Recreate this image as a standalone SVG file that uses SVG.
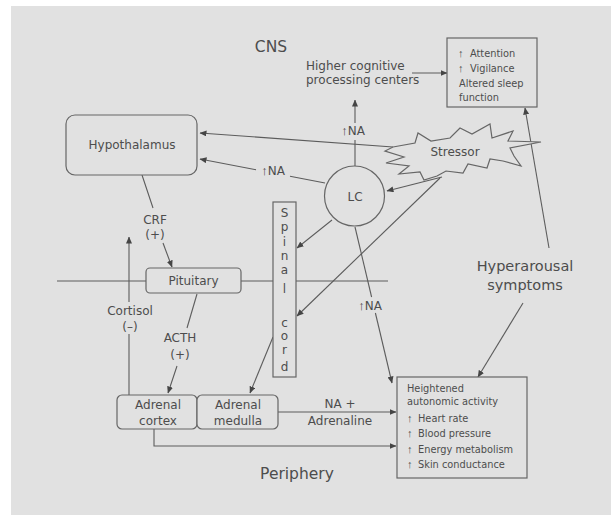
<svg xmlns="http://www.w3.org/2000/svg" width="611" height="515" viewBox="0 0 611 515">
<defs>
<marker id="ah" markerWidth="7" markerHeight="6" refX="6.5" refY="3" orient="auto" markerUnits="userSpaceOnUse"><path d="M0,0 L7,3 L0,6 z" fill="#454545"/></marker>
<style>
.ln{stroke:#5c5c5c;stroke-width:1.1;fill:none}
.ar{stroke:#5c5c5c;stroke-width:1.1;fill:none;marker-end:url(#ah)}
.bx{fill:#e1e1e1;stroke:#666;stroke-width:1.2}
text{font-family:"DejaVu Sans","Liberation Sans",sans-serif;fill:#4d4d4d}
.t12{font-size:12px}
.t10{font-size:9.8px}
.big{font-size:15.5px}
.mid{text-anchor:middle}
.up{font-family:"Liberation Sans",sans-serif;font-size:11px;font-weight:bold}
.upn{font-family:"Liberation Sans",sans-serif;font-size:13px;font-weight:bold}
</style>
</defs>
<rect x="0" y="0" width="611" height="515" fill="#ffffff"/>
<rect x="11" y="6" width="600" height="509" fill="#e1e1e1"/>

<g id="connectors">
<line class="ln" x1="57" y1="281" x2="388" y2="281"/>
<path class="ar" d="M412,73 L447,73"/>
<path class="ln" d="M355,166 L355,140"/>
<path class="ar" d="M355,123 L355,100"/>
<path class="ar" d="M393,147 L200,133"/>
<path class="ln" d="M325,183 L290,176.3"/>
<path class="ar" d="M256,169.8 L200,159"/>
<path class="ar" d="M442,177 L387,191"/>
<path class="ar" d="M332,220 L297,248"/>
<path class="ar" d="M440,178 L297,316"/>
<path class="ln" d="M355,227 L371.6,297"/>
<path class="ar" d="M375.4,313 L392,383"/>
<path class="ar" d="M549,248 L525,108"/>
<path class="ar" d="M523,303 L478,377"/>
<path class="ln" d="M142,175 L153,208"/>
<path class="ar" d="M163,243 L172,267"/>
<path class="ln" d="M129,395 L129,334"/>
<path class="ar" d="M129,302 L129,237"/>
<path class="ln" d="M197,294 L187,328"/>
<path class="ar" d="M177,366 L168,393"/>
<path class="ar" d="M273,337 L250,393"/>
<path class="ar" d="M278,412 L396,412"/>
<path class="ar" d="M154,429 L154,446 L396,446"/>
</g>

<text class="big mid" x="271" y="52">CNS</text>
<text class="big mid" x="297" y="479">Periphery</text>

<g id="higher-cognitive">
<text class="t12" x="306" y="70">Higher cognitive</text>
<text class="t12" x="306" y="84">processing centers</text>
</g>

<g id="cns-symptoms">
<rect class="bx" x="447" y="38" width="90" height="69"/>
<text class="up" x="458" y="57">↑</text><text class="t10" x="470" y="57">Attention</text>
<text class="up" x="458" y="72">↑</text><text class="t10" x="470" y="72">Vigilance</text>
<text class="t10" x="459" y="87">Altered sleep</text>
<text class="t10" x="459" y="101">function</text>
</g>

<g id="hypothalamus">
<rect class="bx" x="66" y="115" width="131" height="60" rx="9"/>
<text class="t12 mid" x="132" y="149">Hypothalamus</text>
</g>

<g id="stressor">
<polygon class="bx" points="393,147 415,143 418,133 431,141 450,138 460,128 472,134 490,124 492,138 513,131 508,141 541,142 510,148 514,156 521,166 503,161 490,159 487,168 468,164 463,173 446,171 437,176 424,180 420,172 399,174 409,166 386,163 404,157 385,151"/>
<text class="t12 mid" x="455" y="156">Stressor</text>
</g>

<g id="lc">
<circle class="bx" cx="354.5" cy="196" r="30"/>
<text class="t12 mid" x="355" y="201">LC</text>
</g>

<g id="na-labels">
<text class="t12 mid" x="353" y="135"><tspan class="upn">↑</tspan>NA</text>
<text class="t12 mid" x="273" y="175"><tspan class="upn">↑</tspan>NA</text>
<text class="t12 mid" x="370" y="310"><tspan class="upn">↑</tspan>NA</text>
</g>

<g id="spinal-cord">
<rect class="bx" x="273" y="202" width="23" height="175"/>
<text class="t12 mid" x="284.5" y="217">S</text>
<text class="t12 mid" x="284.5" y="231">p</text>
<text class="t12 mid" x="284.5" y="246">i</text>
<text class="t12 mid" x="284.5" y="260">n</text>
<text class="t12 mid" x="284.5" y="273.5">a</text>
<text class="t12 mid" x="284.5" y="293">l</text>
<text class="t12 mid" x="284.5" y="327">c</text>
<text class="t12 mid" x="284.5" y="340">o</text>
<text class="t12 mid" x="284.5" y="354">r</text>
<text class="t12 mid" x="284.5" y="371">d</text>
</g>

<g id="pituitary">
<rect class="bx" x="146" y="268" width="95" height="25" rx="4"/>
<text class="t12 mid" x="193.5" y="285">Pituitary</text>
</g>

<g id="hormone-labels">
<text class="t12 mid" x="155" y="224">CRF</text>
<text class="t12 mid" x="155" y="239">(+)</text>
<text class="t12 mid" x="130" y="315">Cortisol</text>
<text class="t12 mid" x="130" y="331">(–)</text>
<text class="t12 mid" x="180" y="342">ACTH</text>
<text class="t12 mid" x="180" y="359">(+)</text>
<text class="t12 mid" x="340" y="408">NA +</text>
<text class="t12 mid" x="340" y="425">Adrenaline</text>
</g>

<g id="adrenal-cortex">
<rect class="bx" x="117" y="395" width="80" height="34" rx="5"/>
<text class="t12 mid" x="158" y="409">Adrenal</text>
<text class="t12 mid" x="158" y="425">cortex</text>
</g>

<g id="adrenal-medulla">
<rect class="bx" x="197" y="395" width="81" height="34" rx="5"/>
<text class="t12 mid" x="238" y="409">Adrenal</text>
<text class="t12 mid" x="238" y="425">medulla</text>
</g>

<g id="hyperarousal">
<text class="mid" font-size="14.5" x="525" y="271">Hyperarousal</text>
<text class="mid" font-size="14.5" x="525" y="290">symptoms</text>
</g>

<g id="autonomic">
<rect class="bx" x="397" y="377" width="130" height="101"/>
<text class="t10" x="407" y="392">Heightened</text>
<text class="t10" x="407" y="405">autonomic activity</text>
<text class="up" x="407" y="421.5">↑</text><text class="t10" x="418" y="421.5">Heart rate</text>
<text class="up" x="407" y="437">↑</text><text class="t10" x="418" y="437">Blood pressure</text>
<text class="up" x="407" y="452.5">↑</text><text class="t10" x="418" y="452.5">Energy metabolism</text>
<text class="up" x="407" y="468">↑</text><text class="t10" x="418" y="468">Skin conductance</text>
</g>
</svg>
